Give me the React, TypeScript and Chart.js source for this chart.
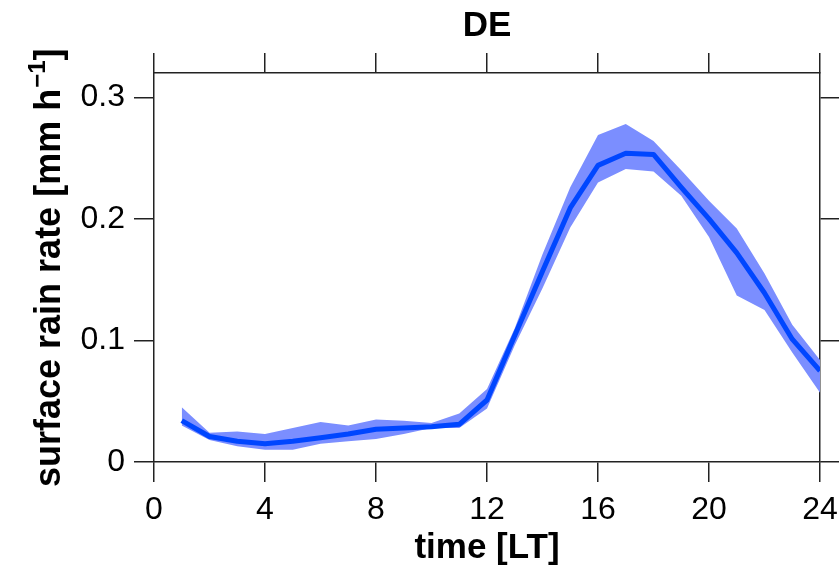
import React, { useEffect, useRef } from "react";
import { Chart, registerables } from "chart.js";

Chart.register(...registerables);

const hours = [1, 2, 3, 4, 5, 6, 7, 8, 9, 10, 11, 12, 13, 14, 15, 16, 17, 18, 19, 20, 21, 22, 23, 24];
const meanRate = [0.034, 0.021, 0.017, 0.015, 0.017, 0.020, 0.023, 0.027, 0.028, 0.029, 0.031, 0.051, 0.104, 0.157, 0.209, 0.244, 0.254, 0.253, 0.226, 0.200, 0.172, 0.139, 0.101, 0.075];
const upperRate = [0.045, 0.024, 0.025, 0.023, 0.028, 0.033, 0.030, 0.035, 0.034, 0.032, 0.040, 0.060, 0.110, 0.171, 0.226, 0.269, 0.278, 0.264, 0.240, 0.215, 0.192, 0.155, 0.113, 0.084];
const lowerRate = [0.030, 0.018, 0.013, 0.010, 0.010, 0.015, 0.017, 0.019, 0.023, 0.028, 0.028, 0.044, 0.096, 0.143, 0.193, 0.230, 0.241, 0.239, 0.219, 0.185, 0.137, 0.125, 0.090, 0.057];
const yTickValues = [0, 0.1, 0.2, 0.3];
const chartTitle = "DE";
const xTitle = "time [LT]";
const yTitleMain = "surface rain rate [mm h";
const yTitleSup = "\u22121";
const yTitleEnd = "]";

const FONT = "'Liberation Sans', Arial, Helvetica, sans-serif";
const AXIS = "#222222";

const textPlugin = {
  id: "customTexts",
  afterDraw(chart: any) {
    const ctx = chart.ctx;
    const area = chart.chartArea;
    ctx.save();
    ctx.fillStyle = "#000";
    ctx.font = `bold 35px ${FONT}`;
    ctx.textAlign = "center";
    ctx.textBaseline = "alphabetic";
    ctx.fillText(chartTitle, (area.left + area.right) / 2, 36);
    ctx.translate(60, 487);
    ctx.rotate(-Math.PI / 2);
    ctx.textAlign = "left";
    ctx.font = `bold 36px ${FONT}`;
    ctx.fillText(yTitleMain, 0, 0);
    let w = ctx.measureText(yTitleMain).width;
    ctx.font = `bold 24px ${FONT}`;
    ctx.fillText(yTitleSup, w + 1, -15);
    w += ctx.measureText(yTitleSup).width + 1;
    ctx.font = `bold 36px ${FONT}`;
    ctx.fillText(yTitleEnd, w, 0);
    ctx.restore();
  },
};

export default function App() {
  const ref = useRef<HTMLCanvasElement | null>(null);
  useEffect(() => {
    if (!ref.current) return;
    const gridCommon = {
      drawOnChartArea: false,
      drawTicks: true,
      tickLength: 20,
      color: AXIS,
      lineWidth: 1.5,
    };
    const border = { display: true, color: AXIS, width: 1.5 };
    const setYTicks = (s: any) => {
      s.ticks = yTickValues.map((v) => ({ value: v }));
    };
    const chart = new Chart(ref.current, {
      type: "line",
      data: {
        labels: hours,
        datasets: [
          {
            label: "mean",
            data: hours.map((h, i) => ({ x: h, y: meanRate[i] })),
            borderColor: "#0046ff",
            borderWidth: 5,
            pointRadius: 0,
            fill: false,
            tension: 0,
            borderJoinStyle: "round",
          },
          {
            label: "upper",
            data: hours.map((h, i) => ({ x: h, y: upperRate[i] })),
            borderColor: "transparent",
            borderWidth: 0,
            pointRadius: 0,
            backgroundColor: "#7b8eff",
            fill: "+1",
            tension: 0,
          },
          {
            label: "lower",
            data: hours.map((h, i) => ({ x: h, y: lowerRate[i] })),
            borderColor: "transparent",
            borderWidth: 0,
            pointRadius: 0,
            fill: false,
            tension: 0,
          },
        ],
      },
      options: {
        responsive: false,
        animation: false,
        devicePixelRatio: 1,
        layout: { autoPadding: false, padding: { top: 53, left: 0, right: 0, bottom: 0 } },
        plugins: {
          legend: { display: false },
          tooltip: { enabled: false },
          title: { display: false },
        },
        scales: {
          x: {
            type: "linear",
            position: "bottom",
            min: 0,
            max: 24,
            ticks: {
              stepSize: 4,
              color: "#000",
              font: { family: FONT, size: 32 },
              padding: 9,
              maxRotation: 0,
              autoSkip: false,
            },
            grid: gridCommon,
            border,
            title: {
              display: true,
              text: xTitle,
              color: "#000",
              font: { family: FONT, size: 35, weight: "bold" },
              padding: { top: 1, bottom: 0 },
            },
            afterFit(s: any) {
              s.height = 107;
              s.paddingLeft = 0;
              s.paddingRight = 0;
            },
          },
          x2: {
            type: "linear",
            position: "top",
            min: 0,
            max: 24,
            ticks: { stepSize: 4, display: false },
            grid: gridCommon,
            border,
            afterFit(s: any) {
              s.height = 20;
              s.paddingLeft = 0;
              s.paddingRight = 0;
            },
          },
          y: {
            type: "linear",
            position: "left",
            min: 0,
            max: 0.32,
            afterBuildTicks: setYTicks,
            ticks: {
              color: "#000",
              font: { family: FONT, size: 32 },
              padding: 9,
              callback: (v: any) => (Number(v) === 0 ? "0" : Number(v).toFixed(1)),
            },
            grid: gridCommon,
            border,
            afterFit(s: any) {
              s.width = 154;
              s.paddingTop = 0;
              s.paddingBottom = 0;
            },
          },
          y2: {
            type: "linear",
            position: "right",
            min: 0,
            max: 0.32,
            afterBuildTicks: setYTicks,
            ticks: { display: false },
            grid: gridCommon,
            border,
            afterFit(s: any) {
              s.width = 19;
              s.paddingTop = 0;
              s.paddingBottom = 0;
            },
          },
        },
      } as any,
      plugins: [textPlugin],
    });
    return () => chart.destroy();
  }, []);
  return (
    <div style={{ position: "fixed", left: 0, top: 0, width: 839, height: 569, background: "#fff" }}>
      <canvas ref={ref} width={839} height={569} style={{ display: "block", width: 839, height: 569 }} />
    </div>
  );
}
